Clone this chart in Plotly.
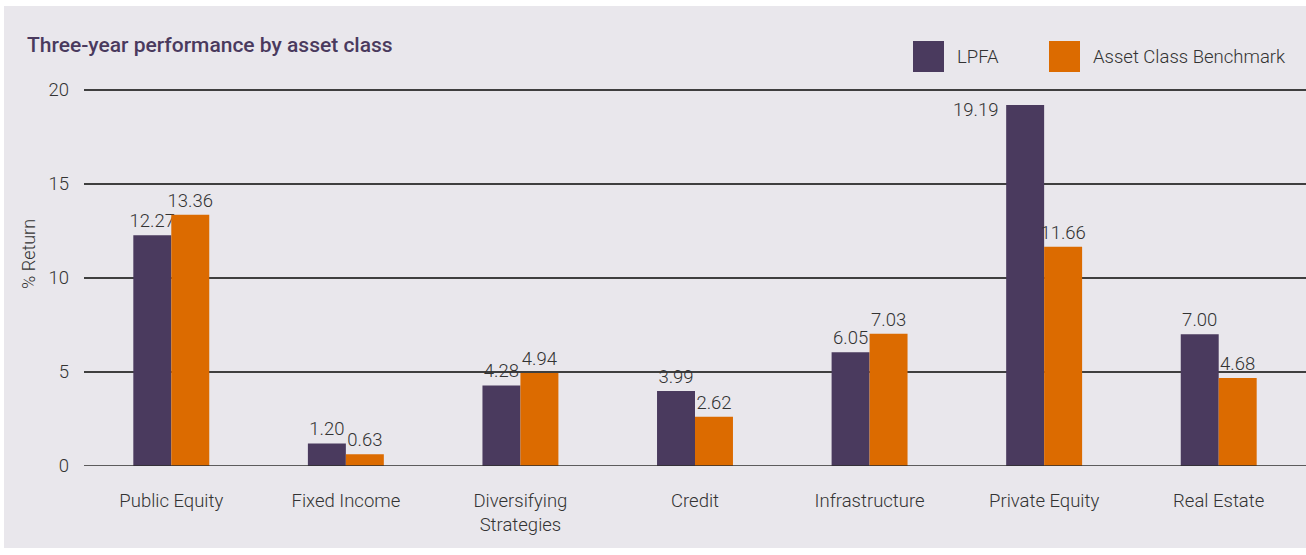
import plotly.graph_objects as go

# Three-year returns (%) by asset class
categories = ["Public Equity", "Fixed Income", "Diversifying<br>Strategies", "Credit",
              "Infrastructure", "Private Equity", "Real Estate"]
lpfa = [12.27, 1.20, 4.28, 3.99, 6.05, 19.19, 7.00]
benchmark = [13.36, 0.63, 4.94, 2.62, 7.03, 11.66, 4.68]
series_names = ["LPFA", "Asset Class Benchmark"]
y_ticks = [0, 5, 10, 15, 20]

PURPLE = "#4a3a5e"
ORANGE = "#dc6b00"
PANEL = "#e9e7ec"
TEXT = "#333333"
FONT = "Roboto"
LABEL_SIZE = 18.5

W, H = 1306, 555
ML, MR, MT, MB = 84, 0, 86, 89
PW, PH = W - ML - MR, H - MT - MB


def px_x(px):
    return (px - ML) / PW


def px_y(py):
    return (H - MB - py) / PH


label_font = dict(size=LABEL_SIZE, color=TEXT, family=FONT, weight=300)

# Private Equity LPFA label sits to the left of its bar
pe_idx = 5
lpfa_pos = ["outside"] * len(lpfa)
lpfa_pos[pe_idx] = "none"

fig = go.Figure()
fig.add_trace(go.Bar(
    name=series_names[0], x=categories, y=lpfa, marker=dict(color=PURPLE, line=dict(width=0)),
    text=[f"{v:.2f}" for v in lpfa], textposition=lpfa_pos, textfont=label_font,
    cliponaxis=False, constraintext="none", showlegend=False,
))
fig.add_trace(go.Bar(
    name=series_names[1], x=categories, y=benchmark, marker=dict(color=ORANGE, line=dict(width=0)),
    text=[f"{v:.2f}" for v in benchmark], textposition="outside", textfont=label_font,
    cliponaxis=False, constraintext="none", showlegend=False,
))

annotations = [
    dict(x=categories[pe_idx], y=lpfa[pe_idx], xref="x", yref="y",
         text=f"{lpfa[pe_idx]:.2f}", showarrow=False, xanchor="right", yanchor="top",
         xshift=-44, yshift=8, font=label_font),
    dict(x=px_x(28), y=px_y(254), xref="paper", yref="paper", text="% Return",
         textangle=-90, showarrow=False, xanchor="center", yanchor="middle",
         font=dict(size=18, color=TEXT, family=FONT, weight=300)),
]

shapes = [
    # light panel behind the chart
    dict(type="rect", xref="paper", yref="paper", x0=px_x(4), x1=px_x(W), y0=px_y(548),
         y1=px_y(6), fillcolor=PANEL, line=dict(width=0), layer="below"),
    # baseline drawn over the bars
    dict(type="line", xref="paper", yref="y", x0=0, x1=1, y0=0, y1=0,
         line=dict(color="#2e2e2e", width=1.5), layer="above"),
]

# legend swatches and labels
legend_items = [(913, series_names[0], PURPLE), (1049, series_names[1], ORANGE)]
for left, label, color in legend_items:
    shapes.append(dict(type="rect", xref="paper", yref="paper", x0=px_x(left), x1=px_x(left + 31),
                       y0=px_y(72), y1=px_y(41), fillcolor=color, line=dict(width=0)))
    annotations.append(dict(x=px_x(left + 42), y=px_y(57), xref="paper", yref="paper", text=label,
                            showarrow=False, xanchor="left", yanchor="middle", font=label_font))

fig.update_layout(
    template="none",
    width=W, height=H,
    margin=dict(l=ML, r=MR, t=MT, b=MB),
    paper_bgcolor="white", plot_bgcolor=PANEL,
    barmode="group", bargap=0.565, bargroupgap=0,
    title=dict(text="Three-year performance by asset class", x=27 / W, xref="container",
               xanchor="left", y=1 - 45 / H, yref="container", yanchor="middle",
               font=dict(size=21, color=PURPLE, family=FONT, weight=500)),
    font=dict(family=FONT, color=TEXT),
    shapes=shapes, annotations=annotations,
    xaxis=dict(showgrid=False, zeroline=False, showline=False, ticks="outside", ticklen=18,
               tickcolor="rgba(0,0,0,0)", tickfont=label_font),
    yaxis=dict(range=[0, 20.2], tickvals=y_ticks, showgrid=True, gridcolor="#3f3f3f", gridwidth=1.5,
               zeroline=False, showline=False, ticks="", ticklabelstandoff=14, tickfont=label_font),
)

fig.write_html("out.html")
